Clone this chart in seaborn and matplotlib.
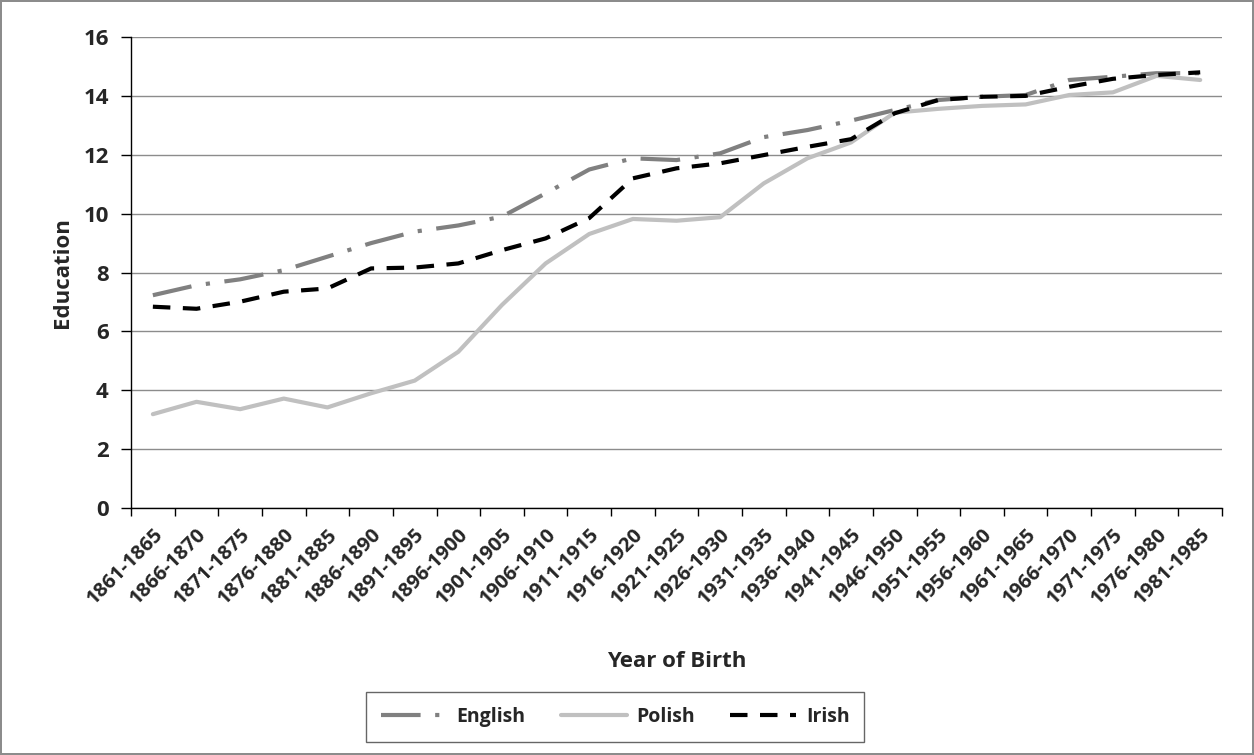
import matplotlib
matplotlib.use("Agg")
import matplotlib.pyplot as plt
import seaborn as sns
import pandas as pd
from matplotlib.ticker import FixedLocator

# Birth cohorts (x categories)
cohorts = ["1861-1865", "1866-1870", "1871-1875", "1876-1880", "1881-1885",
           "1886-1890", "1891-1895", "1896-1900", "1901-1905", "1906-1910",
           "1911-1915", "1916-1920", "1921-1925", "1926-1930", "1931-1935",
           "1936-1940", "1941-1945", "1946-1950", "1951-1955", "1956-1960",
           "1961-1965", "1966-1970", "1971-1975", "1976-1980", "1981-1985"]

# Average years of education
english = [7.23, 7.57, 7.77, 8.08, 8.54, 9.0, 9.39, 9.6, 9.9, 10.69,
           11.5, 11.88, 11.82, 12.05, 12.6, 12.84, 13.16, 13.52, 13.86, 13.97,
           14.03, 14.54, 14.65, 14.77, 14.77]
polish = [3.19, 3.61, 3.36, 3.72, 3.42, 3.9, 4.33, 5.31, 6.9, 8.31,
          9.31, 9.82, 9.76, 9.88, 11.03, 11.88, 12.42, 13.43, 13.56, 13.66,
          13.71, 14.03, 14.12, 14.68, 14.54]
irish = [6.84, 6.77, 7.01, 7.35, 7.46, 8.14, 8.17, 8.31, 8.76, 9.16,
         9.85, 11.2, 11.54, 11.71, 11.99, 12.27, 12.53, 13.41, 13.86, 13.97,
         14.0, 14.31, 14.58, 14.71, 14.8]

groups = ["English", "Polish", "Irish"]

df = pd.DataFrame({
    "Year of Birth": cohorts * 3,
    "Education": english + polish + irish,
    "Group": [g for g in groups for _ in cohorts],
})

sns.set_style("white")
plt.rcParams["font.family"] = ["Open Sans", "DejaVu Sans"]

fig = plt.figure(figsize=(12.54, 7.55), dpi=100)
fig.patch.set_edgecolor("#8c8c8c")
fig.patch.set_linewidth(1.5)
ax = fig.add_axes([0.1045, 0.327, 0.870, 0.624])

palette = {"English": "#808080", "Polish": "#c0c0c0", "Irish": "#000000"}
dashes = {"English": (9.5, 3.5, 1, 3.5), "Polish": "", "Irish": (4.2, 3)}

sns.lineplot(data=df, x="Year of Birth", y="Education", hue="Group",
             style="Group", palette=palette, dashes=dashes, linewidth=3,
             sort=False, ax=ax, legend=True)

ax.set_xlim(-0.5, len(cohorts) - 0.5)
ax.set_ylim(0, 16)
ax.set_yticks(range(0, 17, 2))
ax.yaxis.grid(True, color="#8c8c8c", linewidth=1.0)
ax.set_axisbelow(True)

for s in ["top", "right"]:
    ax.spines[s].set_visible(False)
for s in ["left", "bottom"]:
    ax.spines[s].set_color("black")
    ax.spines[s].set_linewidth(1.0)

ax.set_xticks(range(len(cohorts)))
ax.set_xticklabels(cohorts, rotation=45, ha="right", rotation_mode="anchor",
                   fontsize=14.5, fontweight="bold")
ax.xaxis.set_minor_locator(FixedLocator([i - 0.5 for i in range(len(cohorts) + 1)]))
ax.tick_params(axis="x", which="major", length=0, pad=12)
ax.tick_params(axis="x", which="minor", length=6, width=1, color="black", direction="out")
ax.tick_params(axis="y", length=7, width=1, color="black", direction="out",
               labelsize=16, pad=9)
ax.tick_params(bottom=True, left=True, which="both")
for lab in ax.get_yticklabels():
    lab.set_fontweight("bold")

ax.set_xlabel("Year of Birth", fontsize=16, fontweight="bold")
ax.set_ylabel("Education", fontsize=16, fontweight="bold")
ax.xaxis.set_label_coords(0.5, -0.303)
ax.yaxis.set_label_coords(-0.053, 0.5)

handles, labels = ax.get_legend_handles_labels()
ax.get_legend().remove()
leg = fig.legend(handles, labels, loc="center", bbox_to_anchor=(0.4905, 0.0503),
                 ncol=3, frameon=True, fancybox=False,
                 prop={"size": 14, "weight": "bold"},
                 handlelength=3.4, handletextpad=0.5, columnspacing=1.8,
                 borderpad=0.75, borderaxespad=0)
leg.get_frame().set_edgecolor("#404040")
leg.get_frame().set_linewidth(1.0)

fig.savefig("out.png", dpi=100, edgecolor=fig.get_edgecolor())
